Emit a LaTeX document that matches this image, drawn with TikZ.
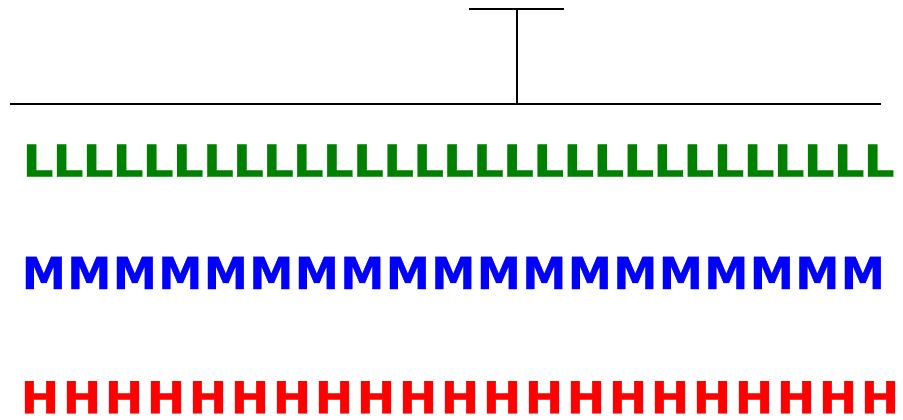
\documentclass[tikz,border=0pt]{standalone}
\usepackage{fontspec}
\setmainfont{DejaVu Sans}
\newfontfamily\heavy{DejaVu Sans}[BoldFeatures={FakeBold=0.8}]
\definecolor{lgreen}{RGB}{0,128,0}
\definecolor{mblue}{RGB}{0,0,255}
\definecolor{hred}{RGB}{255,0,0}
\tikzset{
  rule/.style={line width=1.8pt, black},
  letter/.style={anchor=base, inner sep=0pt, font=\heavy\fontsize{44}{44}\selectfont\bfseries}
}
\begin{document}
\begin{tikzpicture}[x=1pt,y=-1pt]
\useasboundingbox (0,0) rectangle (903,420);
\coordinate (hl) at (10,104);
\coordinate (hr) at (881,104);
\coordinate (vb) at (516.7,104);
\coordinate (vt) at (516.7,9);
\coordinate (tl) at (469,9);
\coordinate (tr) at (564,9);
\draw[rule] (hl) -- (hr);
\draw[rule] (vb) -- (vt);
\draw[rule] (tl) -- (tr);
\foreach \i in {0,...,28} {
  \node[letter, text=lgreen] (L\i) at ({38+30.04*\i},176.7) {\scalebox{1.1}[1]{L}};
}
\foreach \i in {0,...,18} {
  \node[letter, text=mblue] (M\i) at ({43.8+45.5*\i},289) {M};
}
\foreach \i in {0,...,20} {
  \node[letter, text=hred] (H\i) at ({40+42.0*\i},413.3) {\scalebox{1.04}[1]{H}};
}
\end{tikzpicture}
\end{document}
